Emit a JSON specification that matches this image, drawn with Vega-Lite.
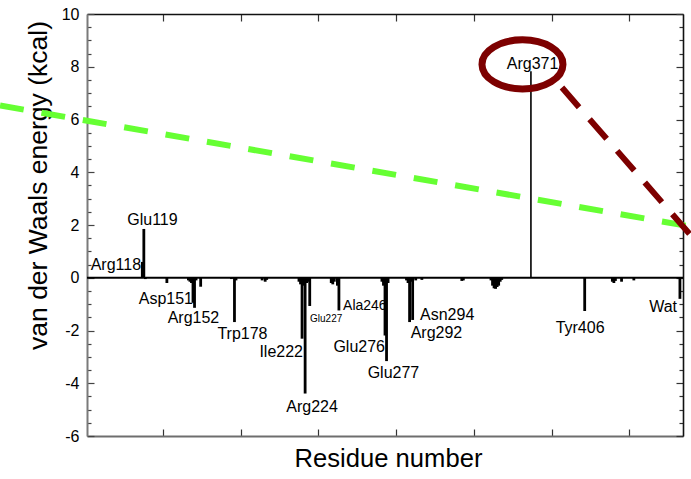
{
  "$schema": "https://vega.github.io/schema/vega-lite/v6.json",
  "width": 596,
  "height": 422,
  "autosize": {"type": "none"},
  "padding": {"left": 87, "top": 14, "right": 8, "bottom": 43},
  "background": "white",
  "config": {
    "view": {"stroke": null},
    "font": "Liberation Sans",
    "axis": {"labelFont": "Liberation Sans", "titleFont": "Liberation Sans", "grid": false}
  },
  "datasets": {
    "bars": [
      {"residue": 118, "energy": 0.6},
      {"residue": 119, "energy": 1.85},
      {"residue": 120, "energy": -0.05},
      {"residue": 134, "energy": -0.2},
      {"residue": 148, "energy": -0.1},
      {"residue": 149, "energy": -0.15},
      {"residue": 150, "energy": -0.2},
      {"residue": 151, "energy": -0.95},
      {"residue": 152, "energy": -1.14},
      {"residue": 153, "energy": -0.1},
      {"residue": 156, "energy": -0.34},
      {"residue": 176, "energy": -0.05},
      {"residue": 178, "energy": -1.68},
      {"residue": 179, "energy": -0.1},
      {"residue": 196, "energy": -0.1},
      {"residue": 198, "energy": -0.15},
      {"residue": 199, "energy": -0.08},
      {"residue": 220, "energy": -0.15},
      {"residue": 221, "energy": -0.25},
      {"residue": 222, "energy": -2.31},
      {"residue": 223, "energy": -0.3},
      {"residue": 224, "energy": -4.39},
      {"residue": 225, "energy": -0.2},
      {"residue": 226, "energy": -0.15},
      {"residue": 227, "energy": -1.07},
      {"residue": 241, "energy": -0.2},
      {"residue": 242, "energy": -0.25},
      {"residue": 243, "energy": -0.15},
      {"residue": 245, "energy": -0.3},
      {"residue": 246, "energy": -1.24},
      {"residue": 274, "energy": -0.15},
      {"residue": 275, "energy": -0.3},
      {"residue": 276, "energy": -2.19},
      {"residue": 277, "energy": -3.16},
      {"residue": 278, "energy": -0.2},
      {"residue": 290, "energy": -0.1},
      {"residue": 291, "energy": -0.2},
      {"residue": 292, "energy": -1.68},
      {"residue": 293, "energy": -0.15},
      {"residue": 294, "energy": -1.6},
      {"residue": 296, "energy": -0.1},
      {"residue": 300, "energy": -0.08},
      {"residue": 326, "energy": -0.12},
      {"residue": 327, "energy": -0.1},
      {"residue": 345, "energy": -0.1},
      {"residue": 346, "energy": -0.3},
      {"residue": 347, "energy": -0.4},
      {"residue": 348, "energy": -0.42},
      {"residue": 349, "energy": -0.35},
      {"residue": 350, "energy": -0.3},
      {"residue": 351, "energy": -0.15},
      {"residue": 352, "energy": -0.08},
      {"residue": 371, "energy": 7.83},
      {"residue": 406, "energy": -1.26},
      {"residue": 424, "energy": -0.15},
      {"residue": 425, "energy": -0.2},
      {"residue": 426, "energy": -0.12},
      {"residue": 430, "energy": -0.15},
      {"residue": 438, "energy": -0.1},
      {"residue": 468, "energy": -0.8}
    ],
    "labels": [
      {"label": "Arg118", "lx": 117.2, "ly": 0.47},
      {"label": "Glu119", "lx": 124.6, "ly": 2.18},
      {"label": "Asp151", "lx": 151.0, "ly": -0.82},
      {"label": "Arg152", "lx": 151.3, "ly": -1.52},
      {"label": "Trp178", "lx": 183.2, "ly": -2.13},
      {"label": "Ile222", "lx": 222.6, "ly": -2.83},
      {"label": "Glu227", "lx": 227.2, "ly": -1.58},
      {"label": "Arg224", "lx": 228.5, "ly": -4.89},
      {"label": "Ala246", "lx": 248.7, "ly": -1.07},
      {"label": "Glu276", "lx": 276.0, "ly": -2.64},
      {"label": "Glu277", "lx": 281.5, "ly": -3.6},
      {"label": "Asn294", "lx": 298.8, "ly": -1.41},
      {"label": "Arg292", "lx": 292.7, "ly": -2.1},
      {"label": "Arg371", "lx": 372.1, "ly": 8.11},
      {"label": "Tyr406", "lx": 403.0, "ly": -1.9},
      {"label": "Wat", "lx": 466.1, "ly": -1.1}
    ],
    "guides": [
      {"guide": "green", "gx": 25.4, "gy": 6.53},
      {"guide": "green", "gx": 475.2, "gy": 1.94},
      {"guide": "red", "gx": 391.2, "gy": 7.21},
      {"guide": "red", "gx": 475.2, "gy": 1.6}
    ],
    "ring": [
      {"cx": 365.5, "cy": 8.09}
    ]
  },
  "resolve": {"axis": {"x": "independent", "y": "independent"}},
  "layer": [
    {
      "data": {"name": "bars"},
      "mark": {"type": "rule", "color": "#000"},
      "encoding": {
        "x": {
          "field": "residue", "type": "quantitative",
          "scale": {"domain": [82, 470], "nice": false, "zero": false},
          "axis": {
            "orient": "bottom",
            "values": [131.7, 182.2, 232.6, 283.4, 334.0, 384.5, 435.0],
            "labels": false,
            "tickSize": -7, "tickColor": "#333", "tickWidth": 1.2,
            "domainColor": "#6e6e6e", "domainWidth": 2,
            "title": "Residue number",
            "titleFontSize": 25.6, "titleFontWeight": "normal", "titleColor": "#000",
            "titleX": 301, "titleY": 22, "titleBaseline": "middle", "titleAlign": "center"
          }
        },
        "y": {
          "field": "energy", "type": "quantitative",
          "scale": {"domain": [-6, 10], "nice": false, "zero": false},
          "axis": {
            "orient": "left",
            "values": [-6, -5.5, -5, -4.5, -4, -3.5, -3, -2.5, -2, -1.5, -1, -0.5, 0, 0.5, 1, 1.5, 2, 2.5, 3, 3.5, 4, 4.5, 5, 5.5, 6, 6.5, 7, 7.5, 8, 8.5, 9, 9.5, 10],
            "labelExpr": "datum.value % 2 === 0 ? toString(datum.value) : ''",
            "tickSize": {"condition": {"test": "datum.value % 2 === 0", "value": -7}, "value": -4},
            "tickColor": "#444", "tickWidth": 1.2,
            "labelFontSize": 16, "labelColor": "#000", "labelPadding": 15,
            "labelFlush": false, "labelOverlap": false,
            "domainColor": "#7a7a7a", "domainWidth": 2,
            "title": "van der Waals energy (kcal)",
            "titleFontSize": 26.5, "titleFontWeight": "normal", "titleColor": "#000",
            "titleX": -49, "titleY": 171, "titleAngle": -90, "titleBaseline": "middle", "titleAlign": "center"
          }
        },
        "y2": {"datum": 0},
        "strokeWidth": {"condition": {"test": "datum.residue === 371", "value": 1.6}, "value": 2.8}
      }
    },
    {
      "data": {"name": "bars"},
      "mark": {"type": "point", "opacity": 0},
      "encoding": {
        "x": {
          "field": "residue", "type": "quantitative",
          "axis": {
            "orient": "top",
            "values": [131.7, 182.2, 232.6, 283.4, 334.0, 384.5, 435.0],
            "labels": false, "title": null,
            "tickSize": -7, "tickColor": "#333", "tickWidth": 1.2,
            "domainColor": "#111", "domainWidth": 1.6
          }
        },
        "y": {
          "field": "energy", "type": "quantitative",
          "axis": {
            "orient": "right",
            "values": [-6, -5.5, -5, -4.5, -4, -3.5, -3, -2.5, -2, -1.5, -1, -0.5, 0, 0.5, 1, 1.5, 2, 2.5, 3, 3.5, 4, 4.5, 5, 5.5, 6, 6.5, 7, 7.5, 8, 8.5, 9, 9.5, 10],
            "labels": false, "title": null,
            "tickSize": {"condition": {"test": "datum.value % 2 === 0", "value": -7}, "value": -4},
            "tickColor": "#333", "tickWidth": 1.2,
            "domainColor": "#111", "domainWidth": 1.6
          }
        }
      }
    },
    {
      "data": {"values": [{}]},
      "mark": {"type": "rule", "color": "#000", "strokeWidth": 2},
      "encoding": {"y": {"datum": 0, "axis": null}}
    },
    {
      "data": {"name": "labels"},
      "transform": [{"filter": {"field": "label", "oneOf": ["Arg118", "Asp151", "Ile222", "Glu276", "Wat"]}}],
      "mark": {"type": "text", "align": "right", "baseline": "middle", "fontSize": 16, "color": "#000", "font": "Liberation Sans"},
      "encoding": {
        "x": {"field": "lx", "type": "quantitative", "axis": null},
        "y": {"field": "ly", "type": "quantitative", "axis": null},
        "text": {"field": "label"}
      }
    },
    {
      "data": {"name": "labels"},
      "transform": [{"filter": {"field": "label", "oneOf": ["Glu119", "Arg152", "Trp178", "Arg224", "Glu277", "Tyr406", "Arg371"]}}],
      "mark": {"type": "text", "align": "center", "baseline": "middle", "fontSize": 16, "color": "#000", "font": "Liberation Sans"},
      "encoding": {
        "x": {"field": "lx", "type": "quantitative", "axis": null},
        "y": {"field": "ly", "type": "quantitative", "axis": null},
        "text": {"field": "label"}
      }
    },
    {
      "data": {"name": "labels"},
      "transform": [{"filter": {"field": "label", "oneOf": ["Asn294", "Arg292"]}}],
      "mark": {"type": "text", "align": "left", "baseline": "middle", "fontSize": 16, "color": "#000", "font": "Liberation Sans"},
      "encoding": {
        "x": {"field": "lx", "type": "quantitative", "axis": null},
        "y": {"field": "ly", "type": "quantitative", "axis": null},
        "text": {"field": "label"}
      }
    },
    {
      "data": {"name": "labels"},
      "transform": [{"filter": {"field": "label", "equal": "Ala246"}}],
      "mark": {"type": "text", "align": "left", "baseline": "middle", "fontSize": 14, "color": "#000", "font": "Liberation Sans"},
      "encoding": {
        "x": {"field": "lx", "type": "quantitative", "axis": null},
        "y": {"field": "ly", "type": "quantitative", "axis": null},
        "text": {"field": "label"}
      }
    },
    {
      "data": {"name": "labels"},
      "transform": [{"filter": {"field": "label", "equal": "Glu227"}}],
      "mark": {"type": "text", "align": "left", "baseline": "middle", "fontSize": 10, "color": "#000", "font": "Liberation Sans"},
      "encoding": {
        "x": {"field": "lx", "type": "quantitative", "axis": null},
        "y": {"field": "ly", "type": "quantitative", "axis": null},
        "text": {"field": "label"}
      }
    },
    {
      "data": {"name": "ring"},
      "mark": {
        "type": "point",
        "shape": "M -1 0 A 1 0.605 0 1 0 1 0 A 1 0.605 0 1 0 -1 0 Z",
        "size": 6561,
        "filled": false,
        "stroke": "#7d0000",
        "strokeWidth": 7,
        "opacity": 1
      },
      "encoding": {
        "x": {"field": "cx", "type": "quantitative", "axis": null},
        "y": {"field": "cy", "type": "quantitative", "axis": null}
      }
    },
    {
      "data": {"name": "guides"},
      "transform": [{"filter": {"field": "guide", "equal": "green"}}],
      "mark": {"type": "line", "clip": false, "color": "#66ff33", "strokeWidth": 6, "strokeDash": [24, 18], "strokeCap": "butt"},
      "encoding": {
        "x": {"field": "gx", "type": "quantitative", "axis": null},
        "y": {"field": "gy", "type": "quantitative", "axis": null}
      }
    },
    {
      "data": {"name": "guides"},
      "transform": [{"filter": {"field": "guide", "equal": "red"}}],
      "mark": {"type": "line", "clip": false, "color": "#7d0000", "strokeWidth": 6, "strokeDash": [26, 16], "strokeCap": "butt"},
      "encoding": {
        "x": {"field": "gx", "type": "quantitative", "axis": null},
        "y": {"field": "gy", "type": "quantitative", "axis": null}
      }
    }
  ]
}
